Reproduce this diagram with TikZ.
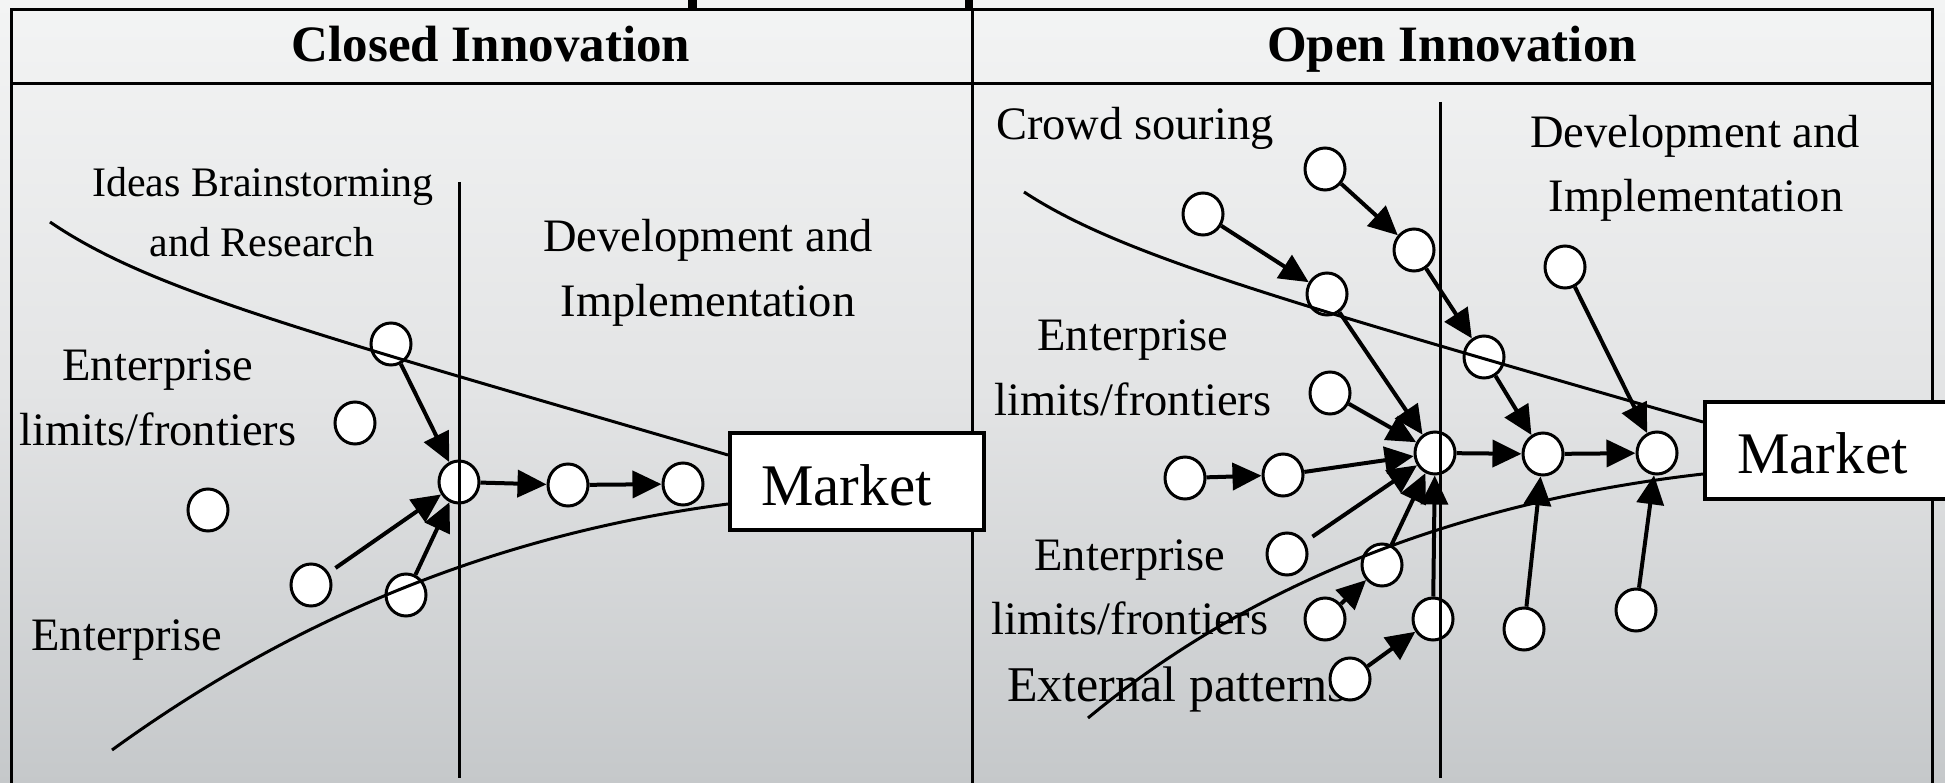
\documentclass[tikz,border=0pt]{standalone}
\usepackage{fontspec}
\setmainfont{Liberation Serif}
\usetikzlibrary{arrows.meta,shapes.geometric}
\definecolor{bgtop}{HTML}{F3F4F4}
\definecolor{bgmid}{HTML}{E3E4E5}
\definecolor{bgbot}{HTML}{C5C8CA}
\tikzset{
  dot/.style={ellipse, draw, line width=3pt, fill=white, minimum width=40pt, minimum height=42pt, inner sep=0pt},
  arr/.style={line width=4pt, -{Triangle[length=29pt,width=27pt]}},
  rule/.style={line width=3pt},
  curve/.style={line width=3pt},
  lbl/.style={font=\fontsize{46.5}{56}\selectfont, inner sep=0pt, anchor=base},
  smalllbl/.style={font=\fontsize{42}{50}\selectfont, inner sep=0pt, anchor=base},
  head/.style={font=\bfseries\fontsize{51}{60}\selectfont, inner sep=0pt, anchor=base},
  mkt/.style={font=\fontsize{59}{70}\selectfont, inner sep=0pt, anchor=base west},
  mbox/.style={draw, line width=3.5pt, fill=white, anchor=north west, inner sep=0pt}
}
\begin{document}
\begin{tikzpicture}[x=1pt,y=-1pt]
\useasboundingbox (0,0) rectangle (1945,783);
\clip (0,0) rectangle (1945,783);
% background
\shade[top color=bgtop, bottom color=bgbot, middle color=bgmid] (0,0) rectangle (1945,783);
% fragments of a cut-off title
\fill (688,0) rectangle (697,9);
\fill (965,0) rectangle (973,9);
% frame
\draw[rule] (11,800) -- (11,10) -- (1932,10) -- (1932,800);
\draw[rule] (11,84) -- (1932,84);
\draw[rule] (972,10) -- (972,800);
% headers
\node[head] (h1) at (491,62) {Closed Innovation};
\node[head] (h2) at (1452,62) {Open Innovation};
% left texts
\node[smalllbl] (t1) at (263,197) {Ideas Brainstorming};
\node[smalllbl] (t2) at (262,257) {and Research};
\node[lbl] (t3) at (708,252) {Development and};
\node[lbl] (t4) at (708,317) {Implementation};
\node[lbl] (t5) at (158,380) {Enterprise};
\node[lbl] (t6) at (158,445) {limits/frontiers};
\node[lbl] (t7) at (127,650) {Enterprise};
% right texts
\node[lbl] (r1) at (1135,140) {Crowd souring};
\node[lbl] (r2) at (1695,148) {Development and};
\node[lbl] (r3) at (1696,212) {Implementation};
\node[lbl] (r4) at (1133,350) {Enterprise};
\node[lbl] (r5) at (1133,415) {limits/frontiers};
\node[lbl] (r6) at (1130,570) {Enterprise};
\node[lbl] (r7) at (1130,634) {limits/frontiers};
\node[font=\fontsize{50}{60}\selectfont, inner sep=0pt, anchor=base west] (r8) at (1007,701) {External patterns};
% left circles
\node[dot] (A) at (391,344) {};
\node[dot] (B) at (355,423) {};
\node[dot] (C) at (208,510) {};
\node[dot] (D) at (311,585) {};
\node[dot] (E) at (406,595) {};
\node[dot] (F) at (459,482) {};
\node[dot] (G) at (568,485) {};
\node[dot] (H) at (683,484) {};
% right circles
\node[dot] (c1) at (1325,169) {};
\node[dot] (c2) at (1203,214) {};
\node[dot] (c3) at (1414,250) {};
\node[dot] (c4) at (1327,294) {};
\node[dot] (c5) at (1484,357) {};
\node[dot] (c6) at (1565,267) {};
\node[dot] (c7) at (1330,393) {};
\node[dot] (h8) at (1435,453) {};
\node[dot] (h9) at (1543,454) {};
\node[dot] (h10) at (1657,453) {};
\node[dot] (c11) at (1185,478) {};
\node[dot] (c12) at (1283,475) {};
\node[dot] (c13) at (1287,554) {};
\node[dot] (c14) at (1382,565) {};
\node[dot] (c15) at (1325,619) {};
\node[dot] (c16) at (1433,619) {};
\node[dot] (c17) at (1350,679) {};
\node[dot] (c18) at (1524,629) {};
\node[dot] (c19) at (1636,610) {};
% stage dividers
\draw[rule] (459,182) -- (459,778);
\draw[rule] (1440,102) -- (1440,778);
% frontier curves
\draw[curve] (50,222) .. controls (150,290) and (300,330) .. (728,455);
\draw[curve] (112,750) .. controls (250,650) and (450,540) .. (728,504);
\draw[curve] (1024,192) .. controls (1120,255) and (1280,300) .. (1703,422);
\draw[curve] (1088,718) .. controls (1230,600) and (1430,505) .. (1703,474);
% left arrows
\draw[arr] (A) -- (F);
\draw[arr, shorten <=8pt] (D) -- (F);
\draw[arr] (E) -- (F);
\draw[arr] (F) -- (G);
\draw[arr] (G) -- (H);
% right arrows
\draw[arr] (c1) -- (c3);
\draw[arr] (c2) -- (c4);
\draw[arr] (c3) -- (c5);
\draw[arr] (c4) -- (h8);
\draw[arr] (c7) -- (h8);
\draw[arr] (c5) -- (h9);
\draw[arr] (c6) -- (h10);
\draw[arr] (c11) -- (c12);
\draw[arr] (c12) -- (h8);
\draw[arr, shorten <=9pt] (c13) -- (h8);
\draw[arr] (c14) -- (h8);
\draw[arr] (c15) -- (c14);
\draw[arr] (c16) -- (h8);
\draw[arr] (c17) -- (c16);
\draw[arr] (c18) -- (h9);
\draw[arr] (c19) -- (h10);
\draw[arr] (h8) -- (h9);
\draw[arr] (h9) -- (h10);
% market boxes
\node[mbox, minimum width=254pt, minimum height=97pt] (m1) at (728,431) {};
\node[mkt] (m1t) at (761,505) {Market};
\node[mbox, minimum width=260pt, minimum height=97pt] (m2) at (1703,400) {};
\node[mkt] (m2t) at (1737,473) {Market};
\end{tikzpicture}
\end{document}
